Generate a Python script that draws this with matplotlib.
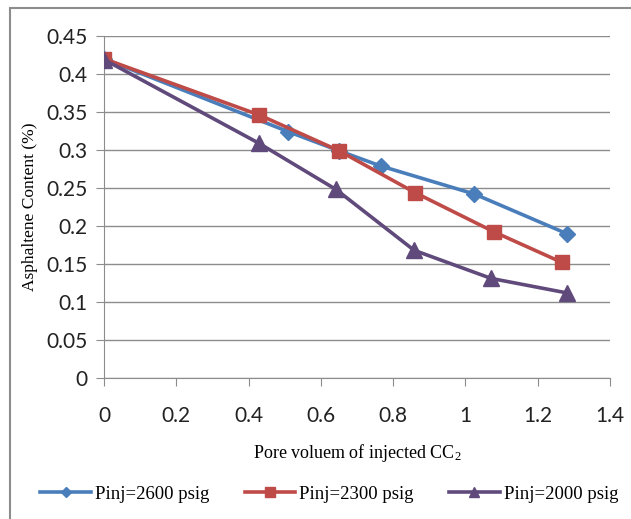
import matplotlib
matplotlib.use("Agg")
import matplotlib.pyplot as plt
from matplotlib.patches import Rectangle

plt.rcParams["mathtext.fontset"] = "custom"
plt.rcParams["mathtext.rm"] = "Liberation Serif"
plt.rcParams["mathtext.it"] = "Liberation Serif"

# data
pv_2600 = [0, 0.51, 0.65, 0.765, 1.025, 1.28]
ac_2600 = [0.42, 0.324, 0.299, 0.279, 0.242, 0.19]

pv_2300 = [0, 0.43, 0.65, 0.86, 1.08, 1.267]
ac_2300 = [0.42, 0.346, 0.299, 0.244, 0.192, 0.152]

pv_2000 = [0, 0.428, 0.642, 0.858, 1.071, 1.28]
ac_2000 = [0.419, 0.309, 0.248, 0.168, 0.131, 0.112]

labels = ["Pinj=2600 psig", "Pinj=2300 psig", "Pinj=2000 psig"]
x_ticks = [0, 0.2, 0.4, 0.6, 0.8, 1, 1.2, 1.4]
y_ticks = [0, 0.05, 0.1, 0.15, 0.2, 0.25, 0.3, 0.35, 0.4, 0.45]

fig = plt.figure(figsize=(6.31, 5.19), dpi=100)
ax = fig.add_axes([0.1648, 0.2717, 0.802, 0.659])

# outer chart border (cropped at right / bottom)
fig.patches.append(Rectangle((10 / 631, -0.05), 1.1, 1 - 8 / 519 + 0.05,
                             transform=fig.transFigure, fill=False,
                             edgecolor="#8c8c8c", linewidth=1.5))

ax.plot(pv_2600, ac_2600, color="#4A7EBB", lw=2.6, marker="D", ms=8,
        label=labels[0], zorder=3)
ax.plot(pv_2300, ac_2300, color="#BE4B48", lw=2.6, marker="s", ms=10,
        label=labels[1], zorder=4)
ax.plot(pv_2000, ac_2000, color="#604A7B", lw=2.6, marker="^", ms=11,
        label=labels[2], zorder=5)

ax.set_xlim(0, 1.4)
ax.set_ylim(0, 0.45)
ax.set_xticks(x_ticks)
ax.set_yticks(y_ticks)
ax.set_xticklabels([f"{v:g}" for v in x_ticks])
ax.set_yticklabels([f"{v:g}" for v in y_ticks])
ax.yaxis.grid(True, color="#8c8c8c", lw=1)
ax.set_axisbelow(True)

for s in ["top", "right"]:
    ax.spines[s].set_visible(False)
for s in ["left", "bottom"]:
    ax.spines[s].set_color("#8c8c8c")
ax.tick_params(axis="both", colors="#8c8c8c", labelcolor="#222222",
               labelsize=15, length=6, direction="out")
ax.tick_params(axis="x", pad=14)
ax.tick_params(axis="y", pad=6)
for t in ax.get_xticklabels() + ax.get_yticklabels():
    t.set_fontfamily("Lato")

ax.set_xlabel("Pore voluem of injected CC$_2$", fontfamily="Liberation Serif",
              fontsize=13, labelpad=12)
ax.set_ylabel("Asphaltene Content (%)", fontfamily="Liberation Serif",
              fontsize=12.5, labelpad=6)

ax.legend(loc="upper center", bbox_to_anchor=(0.445, -0.265), ncol=3,
          frameon=False, prop={"family": "Liberation Serif", "size": 13.5},
          handlelength=2.7, handletextpad=0.2, columnspacing=1.9,
          markerscale=0.7)

fig.savefig("out.png", dpi=100)
